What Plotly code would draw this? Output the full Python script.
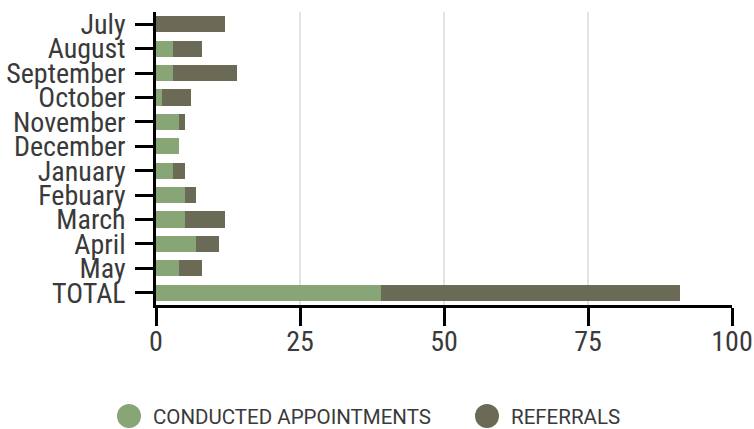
import plotly.graph_objects as go

months = ["July", "August", "September", "October", "November", "December",
          "January", "Febuary", "March", "April", "May", "TOTAL"]
conducted = [0, 3, 3, 1, 4, 4, 3, 5, 5, 7, 4, 39]
referrals = [12, 5, 11, 5, 1, 0, 2, 2, 7, 4, 4, 52]
x_ticks = [0, 25, 50, 75, 100]
series_names = ["CONDUCTED APPOINTMENTS", "REFERRALS"]
series_colors = ["#87A575", "#6B6A57"]

FONT = "Roboto Condensed, Liberation Sans Narrow, DejaVu Sans Condensed, Roboto, sans-serif"
LEGEND_FONT = "Roboto, sans-serif"

W, H = 754, 429
PL, PR, PT, PB = 156, 732, 12, 305   # page coordinates of plot area

fig = go.Figure()
for name, vals, col in zip(series_names, [conducted, referrals], series_colors):
    fig.add_trace(go.Bar(y=months, x=vals, name=name, orientation="h",
                         marker=dict(color=col, line=dict(width=0)),
                         showlegend=False))

# custom legend (large circle markers)
legend_x = [129, 487]
for name, col, lx in zip(series_names, series_colors, legend_x):
    fig.add_shape(type="circle", xref="paper", yref="paper",
                  xsizemode="pixel", ysizemode="pixel",
                  xanchor=(lx - PL) / (PR - PL), yanchor=(PB - 416) / (PB - PT),
                  x0=-12, x1=12, y0=-12, y1=12,
                  fillcolor=col, line=dict(width=0))
    fig.add_annotation(text=name, xref="paper", yref="paper",
                       x=(lx + 22 - PL) / (PR - PL), y=(PB - 417) / (PB - PT),
                       xanchor="left", yanchor="middle", showarrow=False,
                       font=dict(family=LEGEND_FONT, size=20.5, color="#3a3a3a"))

fig.update_layout(
    barmode="stack",
    bargap=0.34,
    width=W, height=H,
    margin=dict(l=PL, r=W - PR, t=PT, b=H - PB, autoexpand=False),
    paper_bgcolor="white", plot_bgcolor="white",
    font=dict(family=FONT, color="#3a3a3a"),
)
fig.update_xaxes(range=[0, 100], tickvals=x_ticks, ticktext=[str(v) for v in x_ticks],
                 automargin=False,
                 showgrid=True, gridcolor="#e3e3e3", gridwidth=2,
                 zeroline=False, showline=True, linecolor="black", linewidth=2.5,
                 ticks="outside", ticklen=18, tickwidth=2.5, tickcolor="black",
                 ticklabelstandoff=-8,
                 tickfont=dict(size=28, family=FONT, color="#3a3a3a"))
fig.update_yaxes(categoryorder="array", categoryarray=months, autorange="reversed",
                 tickmode="array", tickvals=months, ticktext=months,
                 automargin=False,
                 showgrid=False, zeroline=False, showline=True, linecolor="black",
                 linewidth=2.5, ticks="outside", ticklen=18, tickwidth=2.5,
                 tickcolor="black", ticklabelstandoff=4,
                 tickfont=dict(size=28, family=FONT, color="#3a3a3a"))

fig.write_html("out.html", config={"displayModeBar": False},
               post_script="document.body.style.margin='0px';")
